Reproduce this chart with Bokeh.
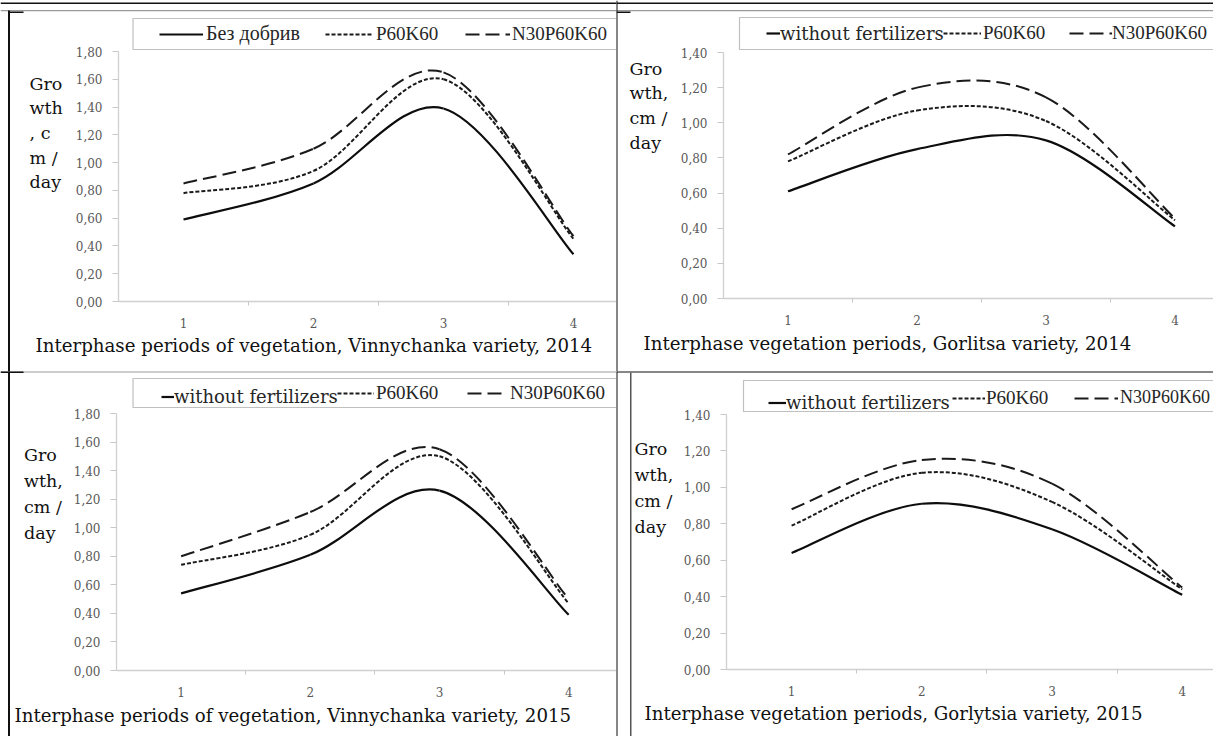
from bokeh.plotting import figure
from bokeh.models import (FixedTicker, CustomJSTickFormatter, Label, BoxAnnotation,
                          Legend, LegendItem, Range1d, ColumnDataSource)
from bokeh.layouts import column, row
from bokeh.embed import file_html
from bokeh.resources import INLINE

# ---------------- data ----------------
periods = [1, 2, 3, 4]

vin14_none = [0.59, 0.85, 1.39, 0.34]
vin14_pk = [0.78, 0.94, 1.60, 0.45]
vin14_npk = [0.85, 1.10, 1.65, 0.47]

gor14_none = [0.61, 0.85, 0.90, 0.41]
gor14_pk = [0.78, 1.07, 1.01, 0.445]
gor14_npk = [0.82, 1.20, 1.145, 0.455]

vin15_none = [0.54, 0.81, 1.26, 0.39]
vin15_pk = [0.74, 0.95, 1.50, 0.47]
vin15_npk = [0.80, 1.11, 1.55, 0.50]

gor15_none = [0.64, 0.91, 0.77, 0.41]
gor15_pk = [0.79, 1.08, 0.92, 0.44]
gor15_npk = [0.88, 1.15, 1.02, 0.45]

y_ticks_180 = [0.0, 0.2, 0.4, 0.6, 0.8, 1.0, 1.2, 1.4, 1.6, 1.8]
y_ticks_140 = [0.0, 0.2, 0.4, 0.6, 0.8, 1.0, 1.2, 1.4]

names_ua = ["Без добрив", "P60K60", "N30P60K60"]
names_en = ["without fertilizers", "P60K60", "N30P60K60"]

titles = [
    "Interphase periods of vegetation, Vinnychanka variety, 2014",
    "Interphase vegetation periods, Gorlitsa variety, 2014",
    "Interphase periods of vegetation, Vinnychanka variety, 2015",
    "Interphase vegetation periods, Gorlytsia variety, 2015",
]
ylab_1 = ["Gro", "wth", ", c", "m /", "day"]
ylab_2 = ["Gro", "wth,", "cm /", "day"]

# ---------------- styles ----------------
SERIES_STYLE = [
    dict(line_color="#0d0d0d", line_width=2.2, line_dash="solid"),
    dict(line_color="#1a1a1a", line_width=2.0, line_dash="4 2"),
    dict(line_color="#1a1a1a", line_width=2.0, line_dash="14 6"),
]
TEXT_FONT = "DejaVu Serif"
LEG_FONT = "Liberation Serif"


def smooth_source(xs, ys):
    """Excel-like smoothed line: cubic Bezier segments through the data points."""
    n = len(xs)
    d = {k: [] for k in ("x0", "y0", "x1", "y1", "cx0", "cy0", "cx1", "cy1")}
    for i in range(n - 1):
        xp, yp = (xs[i - 1], ys[i - 1]) if i > 0 else (xs[i], ys[i])
        xn, yn = (xs[i + 2], ys[i + 2]) if i + 2 < n else (xs[i + 1], ys[i + 1])
        d["x0"].append(xs[i]); d["y0"].append(ys[i])
        d["x1"].append(xs[i + 1]); d["y1"].append(ys[i + 1])
        d["cx0"].append(xs[i] + (xs[i + 1] - xp) / 6.0)
        d["cy0"].append(ys[i] + (ys[i + 1] - yp) / 6.0)
        d["cx1"].append(xs[i + 1] - (xn - xs[i]) / 6.0)
        d["cy1"].append(ys[i + 1] - (yn - ys[i]) / 6.0)
    return ColumnDataSource(d)


def make_panel(g, series, names, ymax, yticks, title, ylab):
    ox, oy, w, h = g["ox"], g["oy"], g["w"], g["h"]
    fl, ft, fb, unit = g["fl"], g["ft"], g["fb"], g["unit"]
    yscale = (fb - ft) / ymax
    xs0 = 0.5 - (fl - ox) / unit
    xs1 = 0.5 + (ox + w - fl) / unit
    ys0 = -(oy + h - fb) / yscale
    ys1 = ymax + (ft - oy) / yscale
    p = figure(width=w, height=h, output_backend="svg", toolbar_location=None, tools="",
               x_range=Range1d(xs0, xs1), y_range=Range1d(ys0, ys1),
               min_border=0, min_border_left=0, min_border_right=0,
               min_border_top=0, min_border_bottom=0)
    p.outline_line_color = None
    p.xgrid.visible = False
    p.ygrid.visible = False
    p.background_fill_color = "white"
    p.border_fill_color = "white"

    sx = lambda xr: xr - ox
    sy = lambda yr: oy + h - yr

    def box(x0, y0, x1, y1, fill=None, line=None, lw=1, level="underlay"):
        b = BoxAnnotation(left=sx(x0), right=sx(x1), top=sy(y0), bottom=sy(y1),
                          left_units="screen", right_units="screen",
                          top_units="screen", bottom_units="screen",
                          fill_color=fill, fill_alpha=1 if fill else 0,
                          line_color=line, line_width=lw, line_alpha=1 if line else 0,
                          level=level, editable=False)
        p.add_layout(b)

    for (x0, y0, x1, y1, c) in g["borders"]:
        box(x0, y0, x1, y1, fill=c)
    lb = g["legbox"]
    box(lb[0], lb[1], lb[2], lb[3], fill="white", line="#c0c0c0", lw=1.2)

    # axes, drawn at fixed data locations inside the full-canvas frame
    p.xaxis.fixed_location = 0
    p.yaxis.fixed_location = 0.5
    p.xaxis.bounds = (0.5, xs1)
    p.yaxis.bounds = (0, ymax)
    p.xaxis.ticker = FixedTicker(ticks=periods, minor_ticks=[1.5, 2.5, 3.5, 4.5])
    p.yaxis.ticker = FixedTicker(ticks=yticks, minor_ticks=[])
    p.yaxis.formatter = CustomJSTickFormatter(code="return tick.toFixed(2).replace('.', ',');")
    for ax in (p.xaxis, p.yaxis):
        ax.axis_line_color = "#d0d0d0"
        ax.axis_line_width = 1.3
        ax.major_tick_line_color = "#c8c8c8"
        ax.minor_tick_line_color = "#c8c8c8"
        ax.major_label_text_font = TEXT_FONT
        ax.major_label_text_font_size = "12px"
        ax.major_label_text_color = "#595959"
    p.xaxis.major_tick_out = 0
    p.xaxis.major_tick_in = 0
    p.xaxis.minor_tick_out = 4
    p.xaxis.minor_tick_in = 0
    p.xaxis.major_label_standoff = 12
    p.yaxis.major_tick_out = 6
    p.yaxis.major_tick_in = 0
    p.yaxis.minor_tick_out = 0
    p.yaxis.minor_tick_in = 0
    p.yaxis.major_label_standoff = 10

    # series (smoothed Bezier curves through the data points)
    rends = []
    for ys, st in zip(series, SERIES_STYLE):
        r = p.bezier(source=smooth_source(periods, ys), x0="x0", y0="y0", x1="x1", y1="y1",
                     cx0="cx0", cy0="cy0", cx1="cx1", cy1="cy1", **st)
        rends.append(r)

    # legend: one item per Legend so each sample can have its own length / height
    LH = 26
    for i, (name, r) in enumerate(zip(names, rends)):
        gx, gw, std, lcy, gcy, font, fsize = g["leg"][i]
        top = lcy - LH / 2.0
        gh = max(2.0, 2.0 * (gcy - top))
        leg = Legend(items=[LegendItem(label=name, renderers=[r])],
                     location=(sx(gx), sy(top + max(gh, LH))), orientation="horizontal",
                     glyph_width=gw, glyph_height=int(round(gh)), label_height=LH, label_width=10,
                     label_standoff=std, padding=0, margin=0, spacing=0,
                     border_line_alpha=0, background_fill_alpha=0,
                     label_text_font=font, label_text_font_size=fsize,
                     label_text_color="#262626")
        p.add_layout(leg)

    # y-axis title (stacked lines) and x-axis title
    yx, y0, step = g["ylab"]
    for k, t in enumerate(ylab):
        p.add_layout(Label(x=sx(yx), y=sy(y0 + k * step), x_units="screen", y_units="screen",
                           text=t, text_font=TEXT_FONT, text_font_size="17.5px",
                           text_color="#111111", text_baseline="middle", text_align="left"))
    tx, ty = g["title"]
    p.add_layout(Label(x=sx(tx), y=sy(ty), x_units="screen", y_units="screen",
                       text=title, text_font=TEXT_FONT, text_font_size="18.2px",
                       text_color="#111111", text_baseline="middle", text_align="left"))
    return p


BLACK = "#111111"
GRAY = "#9a9a9a"
W_L, W_R = 616, 597
H_T, H_B = 371, 365
EN = (TEXT_FONT, "18px")
G1 = dict(ox=0, oy=0, w=W_L, h=H_T, fl=118, ft=51, fb=301, unit=130,
          borders=[(0, 2, 616, 3.5, BLACK), (0, 9.5, 616, 10.7, GRAY),
                   (7.5, 10, 9.5, 371, BLACK), (8, 11, 23, 12.5, BLACK)],
          legbox=(132.5, 18, 1400, 49),
          leg=[(159, 44, 3, 33.5, 33.5, LEG_FONT, "20px"),
               (325, 47, 4, 33.5, 33.5, LEG_FONT, "19px"),
               (465, 45, 2, 33.5, 33.5, LEG_FONT, "19px")],
          ylab=(29, 83, 24.7), title=(35, 345))
G2 = dict(ox=616, oy=0, w=W_R, h=H_T, fl=723, ft=52, fb=298, unit=129,
          borders=[(600, 2, 1300, 3.5, BLACK), (600, 9.5, 1300, 10.7, GRAY),
                   (615.5, 0, 617, 371, BLACK), (616, 11, 630, 12.5, BLACK)],
          legbox=(739, 17, 1400, 49),
          leg=[(766, 14, 0, 33, 33, *EN),
               (943, 38, 2, 33, 33, LEG_FONT, "19px"),
               (1069, 43, 0, 33, 33, LEG_FONT, "19px")],
          ylab=(629, 68, 24.7), title=(643, 343))
G3 = dict(ox=0, oy=H_T, w=W_L, h=H_B, fl=116, ft=413, fb=670, unit=129.2,
          borders=[(0, 370, 616, 372, GRAY), (7.5, 365, 9.5, 740, BLACK),
                   (0, 369.5, 23, 372.5, BLACK)],
          legbox=(132.5, 378, 1400, 407),
          leg=[(161, 13, 0, 396.5, 386, *EN),
               (337, 37, 2, 393, 393, LEG_FONT, "19px"),
               (467, 39, 4, 393, 393, LEG_FONT, "19px")],
          ylab=(23.5, 454, 26), title=(14, 715))
G4 = dict(ox=616, oy=H_T, w=W_R, h=H_B, fl=726, ft=414, fb=669, unit=130.2,
          borders=[(616, 370, 1300, 372, BLACK), (615.5, 365, 617, 740, BLACK),
                   (629.5, 372, 631, 740, "#555555")],
          legbox=(743, 380, 1400, 411),
          leg=[(768, 18, 0, 402.5, 396, *EN),
               (952, 33, 1, 397.5, 397.5, LEG_FONT, "19px"),
               (1074, 44, 2, 397.5, 397.5, LEG_FONT, "18px")],
          ylab=(634, 448, 26.3), title=(644, 713))

p1 = make_panel(G1, [vin14_none, vin14_pk, vin14_npk], names_ua, 1.8, y_ticks_180, titles[0], ylab_1)
p2 = make_panel(G2, [gor14_none, gor14_pk, gor14_npk], names_en, 1.4, y_ticks_140, titles[1], ylab_2)
p3 = make_panel(G3, [vin15_none, vin15_pk, vin15_npk], names_en, 1.8, y_ticks_180, titles[2], ylab_2)
p4 = make_panel(G4, [gor15_none, gor15_pk, gor15_npk], names_en, 1.4, y_ticks_140, titles[3], ylab_2)

layout = column(row(p1, p2, spacing=0), row(p3, p4, spacing=0), spacing=0)
open("out.html", "w").write(file_html(layout, INLINE))
